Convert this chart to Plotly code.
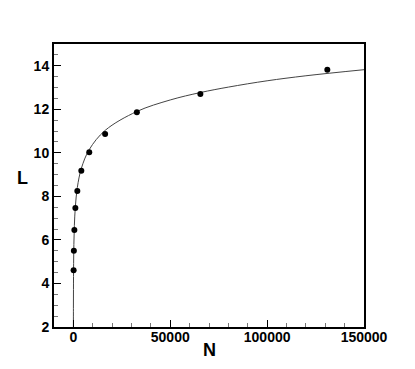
import plotly.graph_objects as go

# measured points
n_pts = [128, 256, 512, 1024, 2048, 4096, 8192, 16384, 32768, 65536, 131072]
l_pts = [4.61, 5.50, 6.46, 7.47, 8.25, 9.18, 10.03, 10.87, 11.86, 12.70, 13.82]

# fitted curve
n_fit = [12.7, 25, 50, 128, 256, 512, 1024, 2048, 4096, 8192, 16384, 32768,
         50000, 65536, 80000, 100000, 120000, 150000]
l_fit = [2.0, 2.86, 3.73, 4.91, 5.79, 6.66, 7.53, 8.41, 9.28, 10.15, 11.03, 11.90,
         12.43, 12.77, 13.02, 13.31, 13.54, 13.82]

x_ticks = [0, 50000, 100000, 150000]
y_ticks = [2, 4, 6, 8, 10, 12, 14]

font_main = "Liberation Sans, Arial, sans-serif"

fig = go.Figure()

fig.add_trace(go.Scatter(
    x=n_fit, y=l_fit, mode="lines",
    line=dict(color="#444444", width=1, shape="spline"),
    hoverinfo="skip",
))
fig.add_trace(go.Scatter(
    x=n_pts, y=l_pts, mode="markers",
    marker=dict(color="black", size=6),
))

axis_common = dict(
    showline=True, linecolor="black", linewidth=2, mirror=True,
    ticks="inside", ticklen=7, tickwidth=1, tickcolor="black",
    showgrid=False, zeroline=False, automargin=False,
    tickfont=dict(family=font_main, size=14, color="black", weight="bold"),
)

fig.update_xaxes(
    range=[-10000, 150000], tickvals=x_ticks, ticktext=[str(v) for v in x_ticks],
    minor=dict(ticks="inside", ticklen=4, tickcolor="#777777", dtick=10000, tick0=0),
    ticklabelstandoff=-4,
    **axis_common,
)
fig.update_yaxes(
    range=[2, 15], tickvals=y_ticks, ticktext=[str(v) for v in y_ticks],
    minor=dict(ticks="inside", ticklen=4, tickcolor="#777777", dtick=0.5, tick0=2),
    **axis_common,
)

# axis titles (L is upright in the original)
title_font = dict(family=font_main, size=18, color="black", weight="bold")
fig.add_annotation(text="L", xref="paper", yref="paper", x=-0.103, y=0.527,
                   xanchor="center", yanchor="middle", showarrow=False, font=title_font)
fig.add_annotation(text="N", xref="paper", yref="paper", x=0.5, y=-0.081,
                   xanchor="center", yanchor="middle", showarrow=False, font=title_font)

# page body adds an 8px offset, so the figure is shrunk by that much
fig.update_layout(
    width=407, height=361,
    margin=dict(l=46, r=51, t=36, b=42),
    paper_bgcolor="white", plot_bgcolor="white",
    showlegend=False,
)

fig.write_html("out.html")
